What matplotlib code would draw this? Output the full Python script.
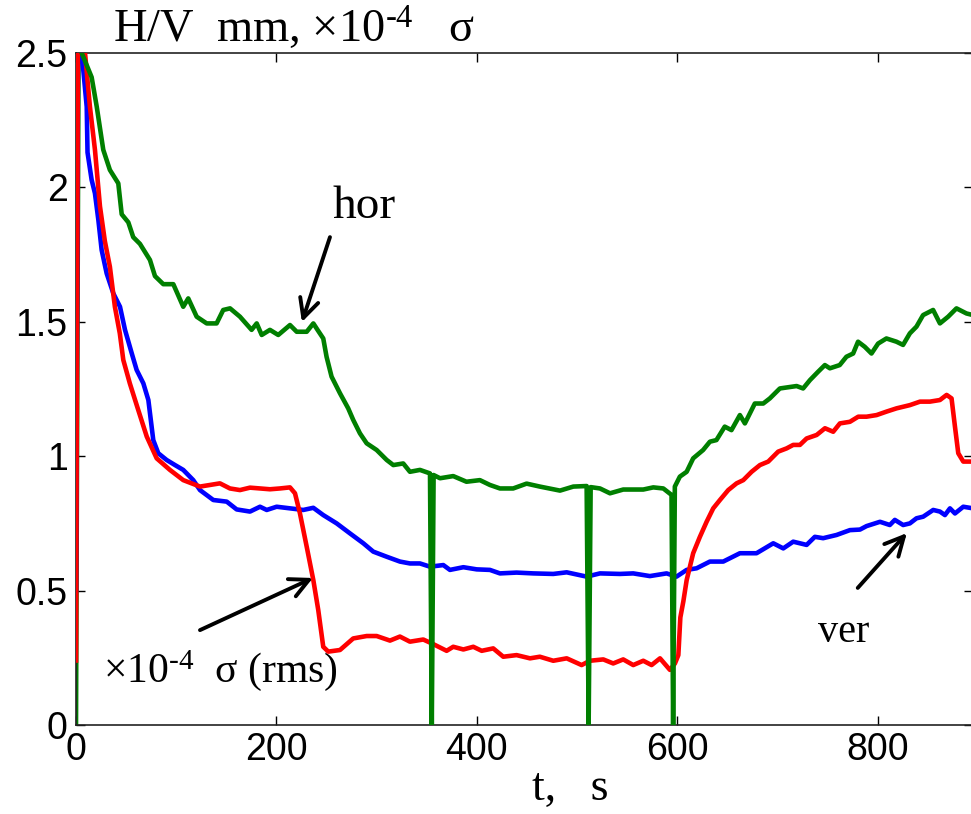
import matplotlib
matplotlib.use("Agg")
import matplotlib.pyplot as plt
import numpy as np

plt.rcParams['mathtext.fontset'] = 'custom'
plt.rcParams['mathtext.rm'] = 'Liberation Serif'
plt.rcParams['mathtext.it'] = 'Liberation Serif:italic'
plt.rcParams['mathtext.bf'] = 'Liberation Serif:bold'

# ---------------- data ----------------
hor_t = [0, 3, 5.7, 15.6, 20.7, 27.2, 33.8, 42.2, 45.6, 52.2, 57.1, 63.8, 73.8, 78.8, 87.1, 97.1,
         107, 112, 120.4, 130.4, 140.3, 146.9, 153.7, 163.6, 175.2, 180.3, 185.3, 193.5, 201.8,
         213.5, 220.2, 230.2, 236.8, 241, 246.7, 250, 255, 263.4, 271.6, 276.6, 283.3, 290, 300,
         310, 316.6, 326.5, 333.2, 343.2, 353.2, 355, 356.8, 363.2, 376.4, 389.6, 403, 413, 423,
         436.2, 449.6, 462.8, 482.9, 496.2, 509.5, 511.5, 513.5, 522.8, 532.8, 546, 566, 576, 586,
         594.2, 595.8, 597.5, 602.5, 609.3, 615.8, 625.7, 632.5, 639, 647.3, 654, 662.4, 667.4,
         677.3, 685.7, 692.3, 702.3, 719, 725.5, 732.3, 740.4, 747.2, 752.2, 762, 768.7, 775.4,
         780.3, 787, 793.7, 800.3, 808.6, 818.6, 825.2, 832, 838.6, 845.2, 855.2, 862, 870.2,
         878.5, 888.5, 895]
hor_v = [0.0, 3.0, 2.5, 2.41, 2.30, 2.14, 2.065, 2.015, 1.90, 1.87, 1.815, 1.79, 1.73, 1.67, 1.64, 1.64,
         1.556, 1.587, 1.519, 1.494, 1.494, 1.544, 1.55, 1.519, 1.47, 1.494, 1.451, 1.47, 1.451,
         1.488, 1.463, 1.463, 1.494, 1.47, 1.438, 1.37, 1.296, 1.234, 1.178, 1.135, 1.085, 1.048, 1.023,
         0.986, 0.967, 0.973, 0.942, 0.949, 0.936, 0.0, 0.93, 0.918, 0.926, 0.905, 0.911, 0.893, 0.88,
         0.88, 0.898, 0.887, 0.872, 0.887, 0.889, 0.0, 0.885, 0.88, 0.862, 0.876, 0.876, 0.884, 0.88,
         0.856, 0.0, 0.887, 0.924, 0.942, 0.992, 1.023, 1.054, 1.06, 1.11, 1.097, 1.153, 1.122,
         1.196, 1.196, 1.215, 1.252, 1.261, 1.252, 1.283, 1.314, 1.339, 1.327, 1.339, 1.37, 1.382,
         1.426, 1.407, 1.382, 1.419, 1.438, 1.426, 1.414, 1.457, 1.482, 1.525, 1.544, 1.494, 1.519,
         1.55, 1.531, 1.525]

ver_t = [0, 2.5, 5.7, 10.7, 11.5, 15.6, 18.9, 22.3, 25.6, 30.6, 37.2, 43.9, 48.9, 55.6, 60.5, 67.2,
         72.2, 77.1, 82.1, 90.4, 98.8, 107, 117, 123.7, 137, 150.4, 160.3, 173.6, 183.6, 190.3,
         200.2, 213.5, 226.7, 236.8, 246.7, 260.1, 273.3, 286.7, 296.6, 310, 323.2, 333.2, 343.2,
         353.2, 366.5, 373.1, 386.5, 399.8, 413, 423, 439.6, 456.2, 476.2, 489.6, 509.5, 522.8,
         542.7, 556, 572.6, 589.3, 599.2, 609.3, 619.2, 632.5, 645.8, 662.4, 679, 695.7, 705.7,
         715.6, 729, 737.2, 745.5, 758.9, 772.2, 782.2, 788.8, 802.2, 812, 817, 825.3, 832, 838.6,
         845.3, 855.3, 862, 867, 872, 877, 885.3, 895]
ver_v = [0.5, 3.0, 2.5, 2.30, 2.13, 2.028, 1.978, 1.879, 1.767, 1.68, 1.606, 1.556, 1.47, 1.383, 1.321, 1.271,
         1.209, 1.06, 1.011, 0.986, 0.967, 0.949, 0.911, 0.874, 0.837, 0.831, 0.802, 0.794, 0.812, 0.80,
         0.812, 0.806, 0.80, 0.808, 0.781, 0.75, 0.713, 0.676, 0.645, 0.626, 0.608, 0.601, 0.601,
         0.589, 0.595, 0.577, 0.587, 0.579, 0.577, 0.564, 0.567, 0.564, 0.562, 0.568, 0.552, 0.564,
         0.562, 0.564, 0.554, 0.564, 0.552, 0.577, 0.583, 0.608, 0.608, 0.639, 0.639, 0.676, 0.657,
         0.682, 0.67, 0.70, 0.695, 0.707, 0.725, 0.727, 0.74, 0.756, 0.744, 0.763, 0.744, 0.75, 0.769,
         0.775, 0.80, 0.794, 0.781, 0.806, 0.787, 0.812, 0.806]

sig_t = [0, 2.5, 9, 13.9, 18.9, 23.9, 28.8, 33.8, 38.8, 43.7, 47.2, 53.7, 62.1, 70.6, 80.5, 93.7, 107,
         123.7, 133.7, 143.6, 153.6, 163.6, 173.6, 183.6, 193.5, 203.5, 213.5, 218.5, 223.4, 230.2,
         236.8, 241.7, 246.7, 251.7, 263.4, 276.6, 290, 300, 313.3, 323.2, 333.2, 346.5, 356.4,
         369.8, 376.4, 386.5, 396.4, 404.8, 416.3, 426.3, 439.6, 453, 462.8, 476.2, 489.6, 504.5,
         512.8, 526.1, 536, 546, 556, 566, 574.3, 582.7, 592.6, 597.6, 601, 603, 606, 609.3, 615.8,
         622.5, 629.2, 635.8, 642.5, 650.8, 659.1, 665.8, 674.1, 682.4, 690.7, 700.6, 709, 715.6,
         722.3, 729, 739, 747.3, 755.5, 762.2, 772.2, 780.5, 788.8, 798.8, 808.8, 818.7, 832, 842.1,
         852, 862, 868.7, 873.6, 877, 880.3, 885.3, 895]
sig_v = [0.24, 3.3, 2.5, 2.30, 2.14, 1.93, 1.80, 1.705, 1.556, 1.457, 1.358, 1.271, 1.172, 1.073, 0.992, 0.949, 0.911,
         0.887, 0.893, 0.899, 0.88, 0.874, 0.883, 0.88, 0.877, 0.88, 0.884, 0.862, 0.788, 0.663,
         0.539, 0.428, 0.291, 0.273, 0.279, 0.322, 0.331, 0.331, 0.314, 0.329, 0.31, 0.318, 0.301,
         0.276, 0.291, 0.281, 0.291, 0.276, 0.285, 0.254, 0.26, 0.248, 0.254, 0.239, 0.248, 0.223,
         0.239, 0.244, 0.229, 0.244, 0.223, 0.239, 0.223, 0.248, 0.205, 0.229, 0.26, 0.40, 0.46, 0.539, 0.639,
         0.70, 0.756, 0.806, 0.837, 0.874, 0.899, 0.911, 0.942, 0.967, 0.98, 1.017, 1.029, 1.042,
         1.042, 1.066, 1.079, 1.104, 1.091, 1.122, 1.128, 1.147, 1.147, 1.153, 1.166, 1.178, 1.19, 1.203,
         1.203, 1.209, 1.228, 1.215, 1.11, 1.011, 0.98, 0.98]

xticks = [0, 200, 400, 600, 800]
yticks = [0, 0.5, 1, 1.5, 2, 2.5]
ytick_labels = ['0', '0.5', '1', '1.5', '2', '2.5']

# ---------------- figure ----------------
W, H = 971, 814
fig = plt.figure(figsize=(W / 100, H / 100), dpi=100)
ax = fig.add_axes([76 / W, 89 / H, 897 / W, 672 / H])

GREEN = '#007f00'
LW = 3.3

hor_t_a = np.array(hor_t); hor_v_a = np.array(hor_v)
early = hor_t_a <= 5.7
late = hor_t_a >= 5.7
ax.plot(hor_t_a[early], hor_v_a[early], color=GREEN, lw=LW, zorder=2)
ax.plot(ver_t, ver_v, color='#0000ff', lw=LW, zorder=3)
ax.plot(sig_t, sig_v, color='#ff0000', lw=LW, zorder=4)
ax.plot(hor_t_a[late], hor_v_a[late], color=GREEN, lw=LW, zorder=5)

ax.set_xlim(0, 895)
ax.set_ylim(0, 2.5)
ax.set_xticks(xticks)
ax.set_xticklabels([str(x) for x in xticks])
ax.set_yticks(yticks)
ax.set_yticklabels(ytick_labels)
ax.tick_params(direction='in', length=6.5, width=1.0, top=True, right=True,
               labelsize=27, colors='black')
ax.tick_params(axis='x', pad=5)
ax.tick_params(axis='y', pad=6)
for lab in ax.get_xticklabels() + ax.get_yticklabels():
    lab.set_family('Liberation Sans')
for sp in ax.spines.values():
    sp.set_linewidth(1.2)
    sp.set_color('#222222')

serif = 'Liberation Serif'
fig.text(113 / W, (H - 43) / H, r'H/V  mm, ×$\mathregular{10^{\text{-}4}}$   σ', fontsize=33.5,
         family=serif, ha='left', va='baseline')
fig.text(570 / W, (H - 800) / H, 't,   s', fontsize=33, family=serif,
         ha='center', va='baseline')

ax.text(256, 1.886, 'hor', fontsize=34, family=serif, ha='left', va='baseline')
ax.text(740, 0.309, 'ver', fontsize=29, family=serif, ha='left', va='baseline')
ax.text(27, 0.16, r'×$\mathregular{10^{\text{-}4}}$  σ (rms)', fontsize=30, family=serif,
        ha='left', va='baseline')

arrow = dict(arrowstyle='->', lw=2.8, color='black', mutation_scale=34,
             shrinkA=0, shrinkB=0)
ax.annotate('', xy=(225.4, 1.499), xytext=(253.4, 1.815), arrowprops=arrow, zorder=6)
ax.annotate('', xy=(236.4, 0.547), xytext=(123.7, 0.353), arrowprops=arrow, zorder=6)
ax.annotate('', xy=(829, 0.714), xytext=(780, 0.51), arrowprops=arrow, zorder=6)

fig.savefig('out.png', dpi=100)
